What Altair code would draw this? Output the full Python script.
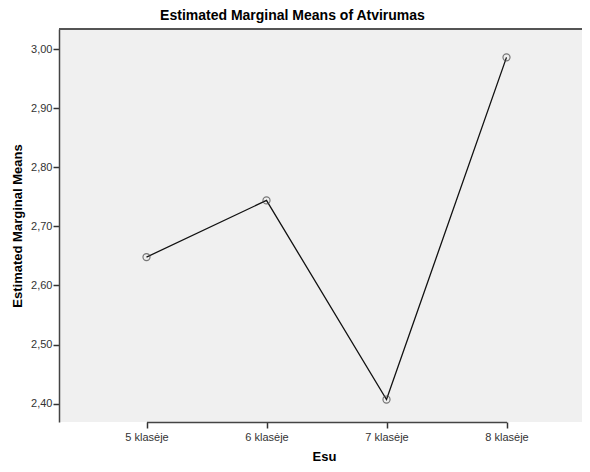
import altair as alt
import pandas as pd

categories = ["5 klasėje", "6 klasėje", "7 klasėje", "8 klasėje"]
means = [2.648, 2.744, 2.407, 2.986]
y_ticks = [2.4, 2.5, 2.6, 2.7, 2.8, 2.9, 3.0]

df = pd.DataFrame({"Esu": categories, "mean": means})

FONT = "Liberation Sans"
W, H = 523, 393

x_enc = alt.X(
    "Esu:N",
    sort=categories,
    scale=alt.Scale(domain=categories, range=[87.5, 447.5], padding=0),
    axis=alt.Axis(
        title="Esu",
        titleFontSize=13,
        titleFontWeight="bold",
        titleColor="#000000",
        titleY=34,
        titleX=265,
        titleBaseline="middle",
        labelFontSize=11,
        labelColor="#333333",
        labelAngle=0,
        labelPadding=3,
        tickSize=6,
        tickColor="#333333",
        tickWidth=1.5,
        domainColor="#444444",
        domainWidth=1.5,
        grid=False,
    ),
)

y_enc = alt.Y(
    "mean:Q",
    scale=alt.Scale(domain=[2.369, 3.034], nice=False, zero=False),
    axis=alt.Axis(
        title="Estimated Marginal Means",
        titleFontSize=13,
        titleFontWeight="bold",
        titleColor="#000000",
        titleX=-42,
        titleBaseline="middle",
        values=y_ticks,
        labelExpr="replace(format(datum.value, '.2f'), '.', ',')",
        labelFontSize=11,
        labelColor="#333333",
        labelPadding=1,
        tickSize=6,
        tickColor="#333333",
        tickWidth=1.5,
        domainColor="#444444",
        domainWidth=1.5,
        grid=False,
    ),
)

base = alt.Chart(df)

top_border = base.mark_rule(color="#555555", strokeWidth=1.5).encode(
    x=alt.value(0), x2=alt.value(W), y=alt.value(0)
)
line = base.mark_line(color="#111111", strokeWidth=1.3).encode(x=x_enc, y=y_enc)
points = base.mark_point(
    shape="circle", filled=False, size=50, color="#444444", strokeWidth=1.2
).encode(x=x_enc, y=y_enc)

chart = (
    alt.layer(top_border, line, points)
    .properties(
        width=W,
        height=H,
        title=alt.TitleParams(
            "Estimated Marginal Means of Atvirumas",
            fontSize=14,
            fontWeight="bold",
            color="#000000",
            anchor="middle",
            dx=-28,
            offset=5,
        ),
        autosize=alt.AutoSizeParams(type="none"),
        padding={"left": 51, "top": 21, "right": 0, "bottom": 42},
    )
    .configure(font=FONT)
    .configure_view(fill="#f0f0f0", strokeWidth=0)
)

chart.save("out.html", embed_options={"renderer": "svg", "actions": False})
